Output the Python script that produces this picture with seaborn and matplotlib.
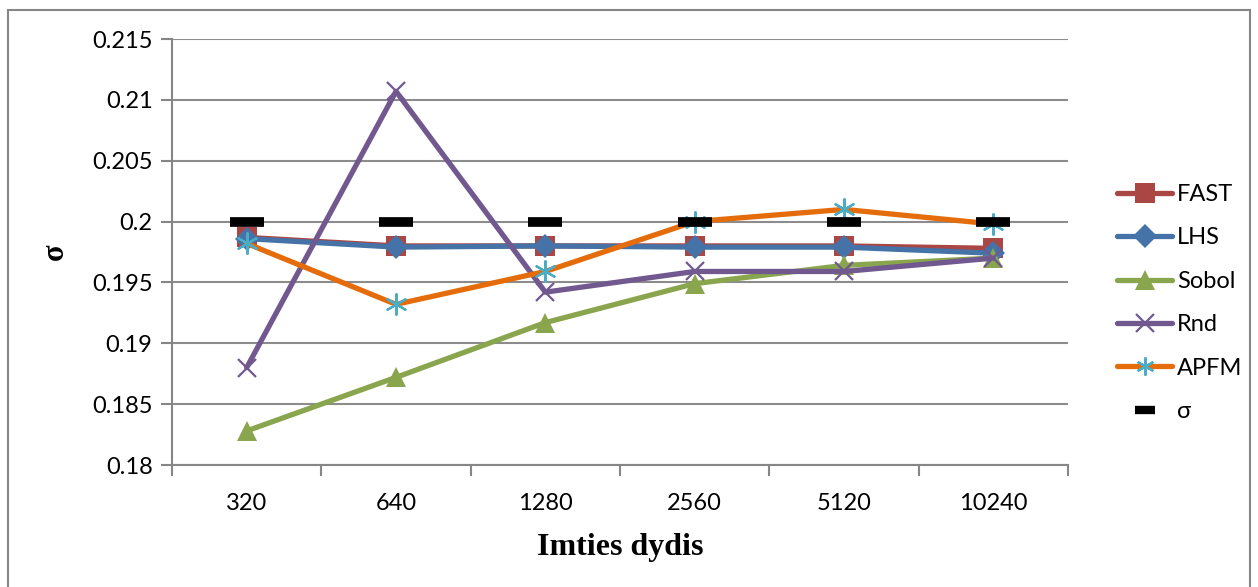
import matplotlib
matplotlib.use("Agg")
import matplotlib.pyplot as plt
import seaborn as sns
import pandas as pd
from matplotlib.patches import Rectangle
from matplotlib.lines import Line2D

# Sample sizes and estimated sigma for each sampling method
sizes = ["320", "640", "1280", "2560", "5120", "10240"]
fast = [0.1987, 0.1980, 0.1980, 0.1980, 0.1980, 0.1978]
lhs = [0.1986, 0.1979, 0.1980, 0.1979, 0.1979, 0.1974]
sobol = [0.1828, 0.1872, 0.1917, 0.1949, 0.1964, 0.1970]
rnd = [0.1880, 0.2107, 0.1942, 0.1959, 0.1959, 0.1970]
apfm = [0.1982, 0.1932, 0.1959, 0.2000, 0.2010, 0.1998]
sigma = [0.2, 0.2, 0.2, 0.2, 0.2, 0.2]
y_ticks = [0.18, 0.185, 0.19, 0.195, 0.2, 0.205, 0.21, 0.215]
y_tick_labels = ["0.18", "0.185", "0.19", "0.195", "0.2", "0.205", "0.21", "0.215"]

sns.set_theme(style="white")
plt.rcParams["font.family"] = ["Lato", "DejaVu Sans"]
plt.rcParams["text.color"] = "black"
plt.rcParams["axes.labelcolor"] = "black"

fig = plt.figure(figsize=(12.58, 5.87), dpi=100)
ax = fig.add_axes([172 / 1258, 1 - 465 / 587, (1068 - 172) / 1258, (465 - 39) / 587])

x = list(range(len(sizes)))

series = [
    ("FAST", fast, "#AA4643", "s", 15, "#AA4643", 0),
    ("LHS", lhs, "#4572A7", "D", 12, "#4572A7", 0),
    ("Sobol", sobol, "#89A54E", "^", 15, "#89A54E", 0),
    ("Rnd", rnd, "#71588F", "x", 13, "#71588F", 1.6),
    ("APFM", apfm, "#E46C0A", "*", 0, "#4BACC6", 0),
]

handles = []
for name, vals, col, mk, ms, mcol, mew in series:
    df = pd.DataFrame({"x": x, "y": vals})
    sns.lineplot(data=df, x="x", y="y", ax=ax, color=col, linewidth=3.8,
                 marker=mk if mk != "*" else None, markersize=ms,
                 markeredgewidth=mew, markerfacecolor=mcol, markeredgecolor=mcol,
                 legend=False, zorder=3)
    if name == "APFM":
        # asterisk markers drawn separately in teal
        sns.scatterplot(data=df, x="x", y="y", ax=ax, marker=(6, 2, 0), s=220,
                        color="#4BACC6", linewidth=1.6, edgecolor="#4BACC6",
                        legend=False, zorder=4)
        handles.append(Line2D([], [], color=col, linewidth=3.8, marker=(6, 2, 0),
                              markersize=13, markeredgecolor="#4BACC6",
                              markeredgewidth=1.6, label=name))
    else:
        handles.append(Line2D([], [], color=col, linewidth=3.8, marker=mk,
                              markersize=ms, markerfacecolor=mcol,
                              markeredgecolor=mcol, markeredgewidth=mew, label=name))

# reference sigma drawn as thick black dashes only
df_sig = pd.DataFrame({"x": x, "y": sigma})
sns.lineplot(data=df_sig, x="x", y="y", ax=ax, linestyle="none", marker="_",
             markersize=24, markeredgewidth=7, color="black",
             markeredgecolor="black", markerfacecolor="black",
             legend=False, zorder=5)
handles.append(Line2D([], [], linestyle="none", marker="_", markersize=14,
                      markeredgewidth=6, color="black", markeredgecolor="black",
                      label="σ"))

ax.set_xlim(-0.5, len(sizes) - 0.5)
ax.set_ylim(0.18, 0.215)
ax.set_yticks(y_ticks)
ax.set_yticklabels(y_tick_labels)
ax.set_xticks(x)
ax.set_xticklabels(sizes)
ax.set_xticks([i - 0.5 for i in range(len(sizes) + 1)], minor=True)
ax.tick_params(axis="x", which="major", length=0, labelsize=17, pad=20, labelcolor="black")
ax.tick_params(axis="x", which="minor", length=8, width=1.5, color="#868686", direction="out", bottom=True)
ax.tick_params(axis="y", length=8, width=1.5, color="#868686", direction="out", left=True,
               labelsize=17, pad=6, labelcolor="black")
ax.grid(axis="y", color="#8C8C8C", linewidth=1.5)
ax.set_axisbelow(True)
for side in ["top", "right"]:
    ax.spines[side].set_visible(False)
for side in ["left", "bottom"]:
    ax.spines[side].set_color("#868686")
    ax.spines[side].set_linewidth(1.5)

ax.set_xlabel("Imties dydis", fontsize=23, fontweight="bold", color="black",
              family=["Liberation Serif", "DejaVu Serif"], labelpad=14)
ax.set_ylabel("σ", fontsize=22, fontweight="bold", color="black",
              family=["Liberation Serif", "DejaVu Serif"], labelpad=16)

leg = fig.legend(handles=handles, loc="upper left", bbox_to_anchor=(1117 / 1258, 1 - 184 / 587),
                 frameon=False, fontsize=17, labelspacing=0.95, handlelength=2.35,
                 handletextpad=0.2, borderaxespad=0, borderpad=0)
for t in leg.get_texts():
    t.set_color("black")

# outer chart frame
fig.patches.append(Rectangle((8 / 1258, -0.01), (1250 - 8) / 1258, 1 - 10 / 587 + 0.01,
                             transform=fig.transFigure, fill=False,
                             edgecolor="#868686", linewidth=1.5))

fig.savefig("out.png", dpi=100)
